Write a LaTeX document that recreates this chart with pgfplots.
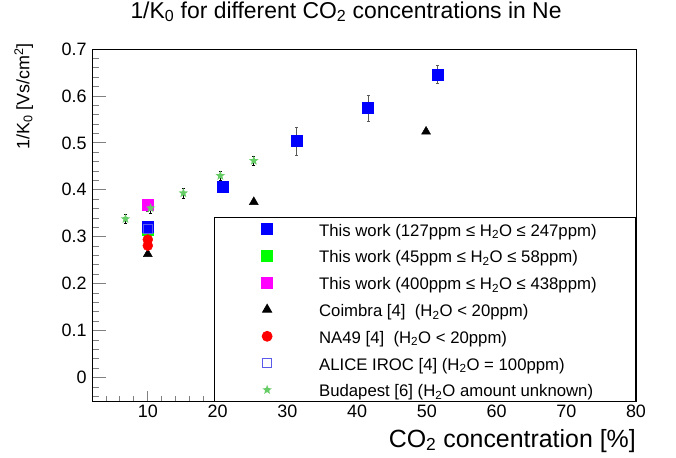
\documentclass[border=0pt]{standalone}
\usepackage{fontspec}
\setmainfont{Liberation Sans}
\usepackage{pgfplots}
\pgfplotsset{compat=1.18}
\usetikzlibrary{plotmarks}

\definecolor{budgreen}{RGB}{102,204,102}
\definecolor{irocblue}{RGB}{90,90,235}
\definecolor{errgray}{RGB}{90,90,90}
\definecolor{puremagenta}{RGB}{255,0,255}
\definecolor{puregreen}{RGB}{0,255,0}
\definecolor{pureblue}{RGB}{0,0,255}

\newcommand{\sub}[1]{\textsubscript{#1}}
\newcommand{\legtext}[1]{#1\kern-8bp}

% filled five-pointed star
\pgfdeclareplotmark{fstar}{%
  \pgfpathmoveto{\pgfpointpolar{90}{\pgfplotmarksize}}%
  \pgfpathlineto{\pgfpointpolar{126}{0.42\pgfplotmarksize}}%
  \pgfpathlineto{\pgfpointpolar{162}{\pgfplotmarksize}}%
  \pgfpathlineto{\pgfpointpolar{198}{0.42\pgfplotmarksize}}%
  \pgfpathlineto{\pgfpointpolar{234}{\pgfplotmarksize}}%
  \pgfpathlineto{\pgfpointpolar{270}{0.42\pgfplotmarksize}}%
  \pgfpathlineto{\pgfpointpolar{306}{\pgfplotmarksize}}%
  \pgfpathlineto{\pgfpointpolar{342}{0.42\pgfplotmarksize}}%
  \pgfpathlineto{\pgfpointpolar{18}{\pgfplotmarksize}}%
  \pgfpathlineto{\pgfpointpolar{54}{0.42\pgfplotmarksize}}%
  \pgfpathclose\pgfusepathqfill}

\begin{document}
\begin{tikzpicture}
\useasboundingbox (0,0) rectangle (676bp,458bp);
\begin{axis}[
  at={(92bp,57bp)}, anchor=south west,
  scale only axis, width=544bp, height=352bp,
  xmin=2, xmax=80, ymin=-0.05, ymax=0.7,
  xtick={0,10,20,30,40,50,60,70,80},
  ytick={-0.1,0,0.1,0.2,0.3,0.4,0.5,0.6,0.7},
  minor x tick num=4, minor y tick num=4,
  tick pos=left, tick align=inside,
  xtick style={/pgfplots/major tick length=10bp,/pgfplots/minor tick length=5bp,line width=0.8bp},
  ytick style={/pgfplots/major tick length=14bp,/pgfplots/minor tick length=7bp,line width=0.8bp},
  axis line style={line width=0.8bp},
  /pgf/number format/assume math mode=true,
  tick label style={font=\fontsize{18}{18}\selectfont},
  yticklabel style={xshift=-2bp},
  title={1/K\sub{0} for different CO\sub{2} concentrations in Ne},
  title style={at={(0.467,1)}, anchor=base, yshift=25bp, inner sep=0pt,
    font=\fontsize{23}{23}\selectfont},
  xlabel={CO\sub{2} concentration [\%]},
  xlabel style={at={(1,0)}, anchor=base east, yshift=-46bp, inner sep=0pt,
    font=\fontsize{25}{25}\selectfont},
  ylabel={1/K\sub{0} [Vs/cm\textsuperscript{2}]},
  ylabel style={at={(-0.143,1.017)}, anchor=north east, inner sep=0pt,
    font=\fontsize{18}{18}\selectfont},
  legend style={at={(1,0)}, anchor=south east, yshift=-1bp, draw=black, fill=white,
    line width=0.8bp, font=\fontsize{16.8}{18}\selectfont,
    inner xsep=47bp, inner ysep=3.7bp, row sep=10.8bp,
    nodes={inner sep=0pt, text height=15bp, text depth=1bp},
    /tikz/every odd column/.append style={column sep=46.5bp}},
  legend cell align=left,
  error bars/y dir=both, error bars/y explicit,
]
% green set drawn first so the blue square lies over it
\addplot[only marks, mark=square*, mark size=5.5bp, draw=puregreen, fill=puregreen, forget plot,
  error bars/error bar style={errgray, line width=0.8bp},
  error bars/error mark options={errgray, mark size=1.5bp, rotate=90}]
  coordinates {(10,0.316) +- (0,0.004)};

\addplot[only marks, mark=square*, mark size=5.5bp, draw=pureblue, fill=pureblue,
  error bars/error bar style={errgray, line width=1bp},
  error bars/error mark options={errgray, mark size=1.5bp, rotate=90}]
  coordinates {
    (10,0.322)   +- (0,0.004)
    (20.7,0.407) +- (0,0.008)
    (31.3,0.504) +- (0,0.030)
    (41.6,0.574) +- (0,0.028)
    (51.6,0.646) +- (0,0.019)
  };
\addlegendentry{\legtext{This work (127ppm ≤ H\sub{2}O ≤ 247ppm)}}

\addlegendimage{only marks, mark=square*, mark size=5.5bp, draw=puregreen, fill=puregreen}
\addlegendentry{\legtext{This work (45ppm ≤ H\sub{2}O ≤ 58ppm)}}

\addplot[only marks, mark=square*, mark size=5.5bp, draw=puremagenta, fill=puremagenta,
  error bars/error bar style={errgray, line width=0.8bp},
  error bars/error mark options={errgray, mark size=1.5bp, rotate=90}]
  coordinates {(10,0.368) +- (0,0.013)};
\addlegendentry{\legtext{This work (400ppm ≤ H\sub{2}O ≤ 438ppm)}}

\addplot[only marks, mark=triangle*, mark size=5.2bp, draw=black, fill=black]
  coordinates {(10,0.263) (25.2,0.374) (49.9,0.524)};
\addlegendentry{\legtext{Coimbra [4]\ \ (H\sub{2}O < 20ppm)}}

\addplot[only marks, mark=*, mark size=5bp, draw=red, fill=red]
  coordinates {(10,0.294) (10,0.281)};
\addlegendentry{\legtext{NA49 [4]\ \ (H\sub{2}O < 20ppm)}}

\addplot[only marks, mark=square, mark size=4.75bp, draw=irocblue, line width=1bp]
  coordinates {(10,0.317)};
\addlegendentry{\legtext{ALICE IROC [4] (H\sub{2}O = 100ppm)}}

\addplot[only marks, mark=fstar, mark size=5bp, draw=budgreen, fill=budgreen,
  error bars/error bar style={black, line width=0.8bp},
  error bars/error mark options={black, mark size=1.5bp, rotate=90}]
  coordinates {
    (6.8,0.338)  +- (0,0.010)
    (10.4,0.361) +- (0,0.010)
    (15.1,0.393) +- (0,0.010)
    (20.4,0.430) +- (0,0.010)
    (25.2,0.462) +- (0,0.010)
  };
\addlegendentry{\legtext{Budapest [6] (H\sub{2}O amount unknown)}}
\end{axis}
\end{tikzpicture}
\end{document}
